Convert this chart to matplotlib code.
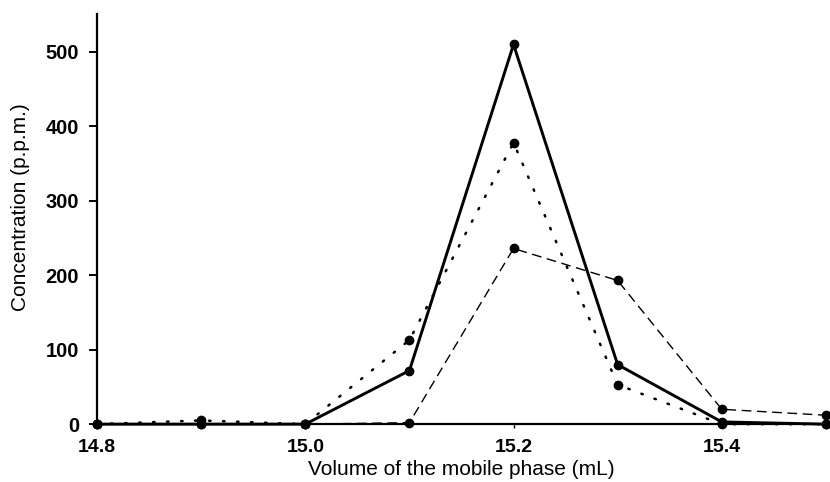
import numpy as np
import matplotlib.pyplot as plt

plt.rcParams['font.family'] = ['Liberation Sans', 'DejaVu Sans']

volume = [14.8, 14.9, 15.0, 15.1, 15.2, 15.3, 15.4, 15.5]
conc_solid = [0, 0, 0, 72, 510, 80, 3, 0]
conc_dotted = [0, 5, 0, 113, 378, 53, 0, 0]
conc_dashed = [0, 0, 0, 2, 236, 193, 20, 12]

fig = plt.figure(figsize=(8.3, 4.82), dpi=100)
ax = fig.add_axes([0.117, 0.12, 0.878, 0.851])

ax.plot(volume, conc_solid, color="black", lw=2.1, ls="-",
        marker="o", ms=6, clip_on=False, zorder=3)
ax.plot(volume, conc_dotted, color="black", lw=1.8, ls=(0, (0.6, 5.0)),
        dash_capstyle="round", marker="o", ms=6, clip_on=False, zorder=3)
ax.plot(volume, conc_dashed, color="black", lw=1.0, ls=(0, (7, 4)),
        marker="o", ms=6, clip_on=False, zorder=3)

ax.set_xlim(14.8, 15.5)
ax.set_ylim(0, 551)
ax.set_xticks([14.8, 15.0, 15.2, 15.4])
ax.set_xticklabels(["14.8", "15.0", "15.2", "15.4"])
ax.set_yticks(np.arange(0, 501, 100))

ax.spines['top'].set_visible(False)
ax.spines['right'].set_visible(False)
ax.spines['left'].set_linewidth(1.6)
ax.spines['bottom'].set_linewidth(1.6)
ax.tick_params(axis='y', direction='out', length=6, width=1.4, labelsize=14.5, pad=7)
ax.tick_params(axis='x', direction='out', length=3, width=1.0, labelsize=14, pad=8)
for lab in ax.get_xticklabels() + ax.get_yticklabels():
    lab.set_fontweight('bold')

ax.set_xlabel("Volume of the mobile phase (mL)", fontsize=15)
ax.set_ylabel("Concentration (p.p.m.)", fontsize=15)
ax.xaxis.set_label_coords(0.5, -0.088)
ax.yaxis.set_label_coords(-0.092, 0.53)

fig.savefig("out.png", dpi=100)
